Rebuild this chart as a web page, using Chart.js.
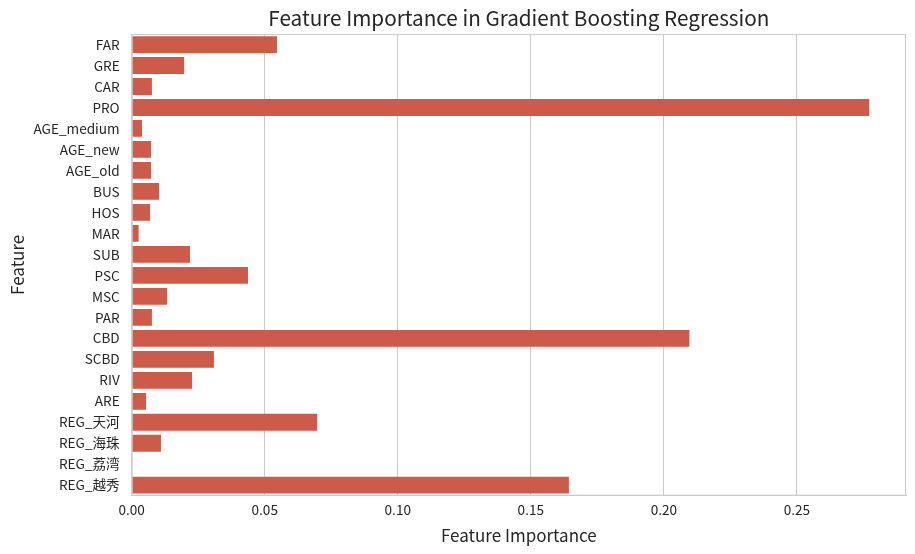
<!DOCTYPE html>
<html lang="en">
<head>
    <meta charset="UTF-8">
    <title>Feature Importance in Gradient Boosting Regression</title>
    <script src="https://cdn.jsdelivr.net/npm/chart.js"></script>
    <style>
        html, body { margin: 0; padding: 0; background: #fff; }
    </style>
</head>
<body>
    <canvas id="importanceChart" width="915" height="554"></canvas>
    <script>
        const features = ['FAR', 'GRE', 'CAR', 'PRO', 'AGE_medium', 'AGE_new', 'AGE_old', 'BUS', 'HOS', 'MAR',
            'SUB', 'PSC', 'MSC', 'PAR', 'CBD', 'SCBD', 'RIV', 'ARE', 'REG_天河', 'REG_海珠', 'REG_荔湾', 'REG_越秀'];
        const importance = [0.0546, 0.0197, 0.0076, 0.2772, 0.0039, 0.0073, 0.0073, 0.0103, 0.0069, 0.0026,
            0.0219, 0.0437, 0.0133, 0.0076, 0.2096, 0.0309, 0.0227, 0.0054, 0.0697, 0.0110, 0.0, 0.1643];
        const xTicks = [0, 0.05, 0.10, 0.15, 0.20, 0.25];

        const fontFamily = '"Noto Sans CJK SC", "Open Sans", sans-serif';
        const textColor = '#262626';
        const gridColor = '#cccccc';

        // seaborn whitegrid draws the spine on all four sides
        const frame = {
            id: 'frame',
            afterDraw(chart) {
                const a = chart.chartArea;
                const ctx = chart.ctx;
                ctx.save();
                ctx.strokeStyle = gridColor;
                ctx.lineWidth = 1;
                ctx.strokeRect(a.left + 0.5, a.top + 0.5, a.right - a.left - 1, a.bottom - a.top - 1);
                ctx.restore();
            }
        };

        const ctx = document.getElementById('importanceChart').getContext('2d');
        new Chart(ctx, {
            type: 'bar',
            data: {
                labels: features,
                datasets: [{
                    label: 'Feature Importance',
                    data: importance,
                    backgroundColor: '#cd5b4a',
                    borderWidth: 0,
                    categoryPercentage: 0.8,
                    barPercentage: 1.0
                }]
            },
            options: {
                indexAxis: 'y',
                responsive: false,
                animation: false,
                layout: { padding: { left: 0, right: 9, top: 0, bottom: 0 } },
                plugins: {
                    legend: { display: false },
                    tooltip: { enabled: false },
                    title: {
                        display: true,
                        fullSize: false,
                        text: 'Feature Importance in Gradient Boosting Regression',
                        color: textColor,
                        font: { family: fontFamily, size: 20.7, weight: 'normal' },
                        padding: { top: 6, bottom: 3.2 }
                    }
                },
                scales: {
                    x: {
                        min: 0,
                        max: 0.291,
                        afterBuildTicks: scale => {
                            scale.ticks = xTicks.map(v => ({ value: v }));
                        },
                        afterFit: scale => { scale.height = 58.3; },
                        ticks: {
                            color: textColor,
                            font: { family: fontFamily, size: 13.6 },
                            padding: 6,
                            callback: v => Number(v).toFixed(2)
                        },
                        grid: { color: gridColor, drawTicks: false },
                        border: { color: gridColor },
                        title: {
                            display: true,
                            text: 'Feature Importance',
                            color: textColor,
                            font: { family: fontFamily, size: 17 },
                            padding: { top: 4, bottom: 7.8 }
                        }
                    },
                    y: {
                        afterFit: scale => { scale.width = 131.7; },
                        ticks: {
                            color: textColor,
                            font: { family: fontFamily, size: 13.6 },
                            padding: 12,
                            autoSkip: false
                        },
                        grid: { display: false, drawTicks: false },
                        border: { color: gridColor },
                        title: {
                            display: true,
                            text: 'Feature',
                            color: textColor,
                            font: { family: fontFamily, size: 17 },
                            padding: { top: 7.8, bottom: 4 }
                        }
                    }
                }
            },
            plugins: [frame]
        });
    </script>
</body>
</html>
